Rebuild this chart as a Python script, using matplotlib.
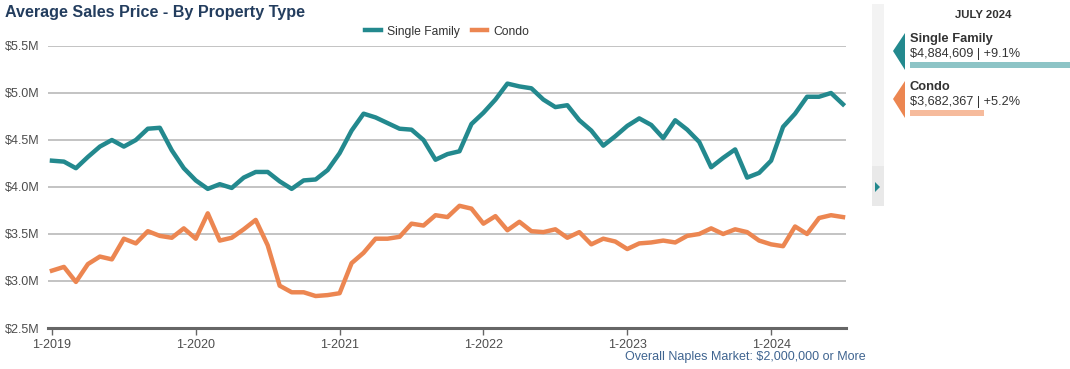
import numpy as np
import matplotlib
matplotlib.use("Agg")
import matplotlib.pyplot as plt
from matplotlib.patches import Polygon, Rectangle

plt.rcParams['font.family'] = ['Liberation Sans', 'DejaVu Sans']

# monthly data, Jan 2019 .. Jul 2024 (in $M)
single_family = [4.28, 4.27, 4.20, 4.32, 4.43, 4.50, 4.43, 4.50, 4.62, 4.63, 4.39, 4.20,
                 4.07, 3.98, 4.03, 3.99, 4.10, 4.16, 4.16, 4.06, 3.98, 4.07, 4.08, 4.18,
                 4.36, 4.60, 4.78, 4.74, 4.68, 4.62, 4.61, 4.50, 4.29, 4.35, 4.38, 4.67,
                 4.79, 4.93, 5.10, 5.07, 5.05, 4.93, 4.85, 4.87, 4.71, 4.60, 4.44, 4.54,
                 4.65, 4.73, 4.66, 4.52, 4.71, 4.61, 4.48, 4.21, 4.31, 4.40, 4.10, 4.15,
                 4.28, 4.64, 4.78, 4.96, 4.96, 5.00, 4.88]
condo = [3.11, 3.15, 2.99, 3.18, 3.26, 3.23, 3.45, 3.40, 3.53, 3.48, 3.46, 3.56,
         3.45, 3.72, 3.43, 3.46, 3.55, 3.65, 3.38, 2.95, 2.88, 2.88, 2.84, 2.85,
         2.87, 3.19, 3.30, 3.45, 3.45, 3.47, 3.61, 3.59, 3.70, 3.68, 3.80, 3.77,
         3.61, 3.69, 3.54, 3.63, 3.53, 3.52, 3.55, 3.46, 3.52, 3.39, 3.45, 3.42,
         3.34, 3.40, 3.41, 3.43, 3.41, 3.48, 3.50, 3.56, 3.50, 3.55, 3.52, 3.43,
         3.39, 3.37, 3.58, 3.50, 3.67, 3.70, 3.68]
years = ['1-2019', '1-2020', '1-2021', '1-2022', '1-2023', '1-2024']
y_ticks = [2.5, 3.0, 3.5, 4.0, 4.5, 5.0, 5.5]

latest_label = 'JULY 2024'
latest_names = ['Single Family', 'Condo']
latest_values = ['$4,884,609 | +9.1%', '$3,682,367 | +5.2%']
latest_bar = [1.0, 0.46]

teal = '#23898e'
orange = '#ec8651'
teal_light = '#8dc4c6'
orange_light = '#f6bb9c'
navy = '#233d5e'

W, H = 1070, 369
fig = plt.figure(figsize=(W / 100, H / 100), dpi=100)

ax = fig.add_axes([48 / W, 1 - 328 / H, (846 - 48) / W, (328 - 46) / H])
x = np.arange(len(single_family))
ax.plot(x, single_family, color=teal, lw=3.2, solid_joinstyle='round', label='Single Family')
ax.plot(x, condo, color=orange, lw=3.2, solid_joinstyle='round', label='Condo')
ax.set_xlim(-0.33, 66.25)
ax.set_ylim(2.5, 5.5)
ax.set_yticks(y_ticks)
ax.set_yticklabels(['$%.1fM' % v for v in y_ticks])
ax.set_xticks(np.arange(len(years)) * 12)
ax.set_xticklabels(years)
ax.grid(axis='y', color='#b3b3b3', lw=1.1)
ax.set_axisbelow(True)
for s in ['top', 'right', 'left']:
    ax.spines[s].set_visible(False)
ax.spines['bottom'].set_color('#666666')
ax.spines['bottom'].set_linewidth(2.2)
ax.tick_params(axis='y', length=0, pad=6, labelsize=9, labelcolor='#4d4d4d')
ax.tick_params(axis='x', length=5, width=1, color='#666666', pad=3, labelsize=9, labelcolor='#4d4d4d')

leg = ax.legend(loc='lower center', bbox_to_anchor=(0.5, 1.0), ncol=2, frameon=False,
                fontsize=8.7, handlelength=1.3, handletextpad=0.5, columnspacing=1.0,
                borderaxespad=0.3)
for t in leg.get_texts():
    t.set_color('#333333')

fig.text(5 / W, 1 - 13 / H, 'Average Sales Price - By Property Type', fontsize=11.6,
         fontweight='bold', color=navy, va='center', ha='left')
fig.text(866 / W, 1 - 357 / H, 'Overall Naples Market: $2,000,000 or More', fontsize=9,
         color='#3f6490', va='center', ha='right')

# overlay in pixel coordinates for the side panel
ov = fig.add_axes([0, 0, 1, 1], zorder=-1)
ov.set_xlim(0, W)
ov.set_ylim(H, 0)
ov.axis('off')
ov.add_patch(Rectangle((872, 4), 12, 162, color='#f3f3f3', lw=0))
ov.add_patch(Rectangle((872, 166), 12, 40, color='#e9e9e9', lw=0))
ov.add_patch(Polygon([[875, 182], [875, 192], [880, 187]], color=teal, lw=0))

ov2 = fig.add_axes([0, 0, 1, 1], zorder=2)
ov2.set_xlim(0, W)
ov2.set_ylim(H, 0)
ov2.axis('off')
ov2.text(983, 15, latest_label, fontsize=8.2, fontweight='bold', color='#333333',
         ha='center', va='center')
dark = [teal, orange]
light = [teal_light, orange_light]
for i, (name, val) in enumerate(zip(latest_names, latest_values)):
    y0 = 38 + i * 48
    ov2.add_patch(Polygon([[905, y0 - 5], [893, y0 + 13], [905, y0 + 32]], color=dark[i], lw=0))
    ov2.text(910, y0 + 1, name, fontsize=9.3, fontweight='bold', color='#333333', ha='left', va='center')
    ov2.text(910, y0 + 16, val, fontsize=9.2, color='#333333', ha='left', va='center')
    ov2.add_patch(Rectangle((910, y0 + 24), 160 * latest_bar[i], 6, color=light[i], lw=0))

fig.savefig('out.png', dpi=100)
